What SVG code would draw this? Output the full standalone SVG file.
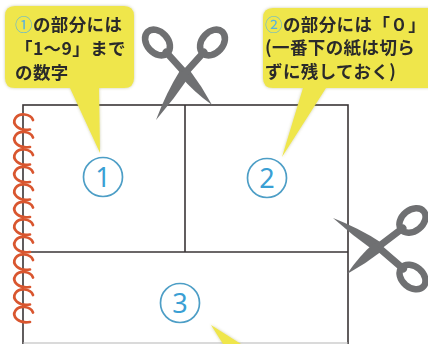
<svg xmlns="http://www.w3.org/2000/svg" xmlns:xlink="http://www.w3.org/1999/xlink" width="428" height="344" viewBox="0 0 428 344">
  <style>
    .edge { stroke: #3a3536; stroke-width: 1.6; fill: none; }
    .bubble { fill: #efe64c; }
    .btxt { font-family: "Noto Sans CJK JP", "Noto Sans", sans-serif; font-size: 17.5px; font-weight: 700; fill: #2b2b2b; letter-spacing: 0.4px; }
    .bnum { fill: #5ab3dc; font-weight: 400; }
    .ring { fill: none; stroke: #6f7072; stroke-width: 6.5; }
    .handle { stroke: #6f7072; stroke-width: 7; stroke-linecap: round; }
    .steel { fill: #6f7072; }
    .coil { fill: none; stroke: #d9562f; stroke-width: 2.7; stroke-linecap: round; }
    .num circle { fill: none; stroke: #4d9ec6; stroke-width: 1.7; }
    .num text { font-family: "Noto Sans", "DejaVu Sans", sans-serif; font-size: 27px; fill: #3a9fd4; text-anchor: middle; }
  </style>
  <defs>
    <filter id="soft" x="-10%" y="-10%" width="120%" height="120%">
      <feDropShadow dx="0" dy="0" stdDeviation="1.6" flood-color="#8c8a3a" flood-opacity="0.45"/>
    </filter>
    <!-- blade drawn from the pivot along +x, 50 units long -->
    <path id="blade" d="M0,-5.5 Q25,-4.4 50,0 Q24,5.6 0,5.5 Z"/>
    <ellipse id="loop" cx="0" cy="0" rx="14.5" ry="10.5"/>
    <path id="coil" d="M30,14.5 C18.5,16.5 11.5,9 15.5,3 C19.5,-2.5 30.5,-1.5 33,5"/>
  </defs>

  <rect width="428" height="344" fill="#ffffff"/>

  <!-- sheet of paper with cut lines -->
  <g id="paper">
    <rect x="23" y="105" width="325" height="260" fill="#ffffff" class="edge"/>
    <line x1="23" y1="343" x2="348" y2="343" stroke="#b5b5b5" stroke-width="1.2"/>
  </g>
  <g id="cuts">
    <line class="edge" x1="23" y1="252" x2="348" y2="252"/>
    <line class="edge" x1="185" y1="105" x2="185" y2="252"/>
  </g>

  <!-- spiral binding -->
  <g id="binding">
    <use href="#coil" class="coil" transform="translate(0 115)"/>
    <use href="#coil" class="coil" transform="translate(0 132.5)"/>
    <use href="#coil" class="coil" transform="translate(0 150)"/>
    <use href="#coil" class="coil" transform="translate(0 167.5)"/>
    <use href="#coil" class="coil" transform="translate(0 185)"/>
    <use href="#coil" class="coil" transform="translate(0 202.5)"/>
    <use href="#coil" class="coil" transform="translate(0 220)"/>
    <use href="#coil" class="coil" transform="translate(0 237.5)"/>
    <use href="#coil" class="coil" transform="translate(0 255)"/>
    <use href="#coil" class="coil" transform="translate(0 272.5)"/>
    <use href="#coil" class="coil" transform="translate(0 290)"/>
    <use href="#coil" class="coil" transform="translate(0 307.5)"/>
  </g>

  <!-- part numbers -->
  <g id="part1" class="num">
    <circle cx="103" cy="177" r="19.5"/>
    <text x="103" y="186.5">1</text>
  </g>
  <g id="part2" class="num">
    <circle cx="267" cy="178" r="19.5"/>
    <text x="267" y="187.5">2</text>
  </g>
  <g id="part3" class="num">
    <circle cx="180" cy="303" r="19.5"/>
    <text x="180" y="312.5">3</text>
  </g>

  <!-- scissors at the top -->
  <g id="scissors-top">
    <line class="handle" x1="185" y1="73" x2="166" y2="52"/>
    <line class="handle" x1="185" y1="73" x2="204" y2="52"/>
    <use href="#loop" class="ring" transform="translate(157.5 42.5) rotate(47.9)"/>
    <use href="#loop" class="ring" transform="translate(212.5 42.5) rotate(132.1)"/>
    <use href="#blade" class="steel" transform="translate(185 73) rotate(49.8) scale(0.838 1)"/>
    <use href="#blade" class="steel" transform="translate(185 73) rotate(121.7) scale(1.104 1)"/>
  </g>

  <!-- scissors at the right -->
  <g id="scissors-right">
    <line class="handle" x1="378" y1="247" x2="403.5" y2="269"/>
    <line class="handle" x1="378" y1="247" x2="403" y2="228"/>
    <use href="#loop" class="ring" transform="translate(412.5 277) rotate(40.6)"/>
    <use href="#loop" class="ring" transform="translate(412.5 220.5) rotate(-38.7)"/>
    <use href="#blade" class="steel" transform="translate(378 247) rotate(212.8) scale(1.07 1)"/>
    <use href="#blade" class="steel" transform="translate(378 247) rotate(138.9) scale(0.822 1)"/>
  </g>

  <!-- callout for part 1 -->
  <g id="note1" filter="url(#soft)">
    <path class="bubble" d="M15,6 H124 Q134,6 134,16 V78 Q134,88 124,88 H99 L100,153 L70,88 H15 Q5,88 5,78 V16 Q5,6 15,6 Z"/>
    <text class="btxt" x="15" y="31"><tspan class="bnum">①</tspan>の部分には</text>
    <text class="btxt" x="15" y="55">「1～9」まで</text>
    <text class="btxt" x="15" y="79">の数字</text>
  </g>

  <!-- callout for part 2 -->
  <g id="note2" filter="url(#soft)">
    <path class="bubble" d="M273,8 H440 V88 H326 L282,157 L303,88 H273 Q263,88 263,78 V18 Q263,8 273,8 Z"/>
    <text class="btxt" x="265" y="31"><tspan class="bnum">②</tspan>の部分には「０」</text>
    <text class="btxt" x="265" y="54">(一番下の紙は切ら</text>
    <text class="btxt" x="265" y="78">ずに残しておく)</text>
  </g>

  <!-- tip of the callout for part 3 -->
  <g id="note3" filter="url(#soft)">
    <path class="bubble" d="M211,325 L241,344 H223 Z"/>
  </g>
</svg>
